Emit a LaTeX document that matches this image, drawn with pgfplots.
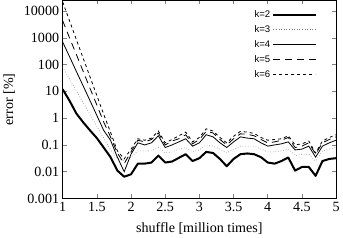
\documentclass[border=0pt]{standalone}
\usepackage{fontspec}
\setmainfont{Liberation Serif}
\newfontfamily\legfont{Liberation Sans}
\usepackage{pgfplots}
\usepackage{pgfplotstable}
\pgfplotsset{compat=1.18}
\pgfplotstableread{
x k2 k3 k4 k5 k6
1.0 12 80 700 4400 22000
1.1 4.5 29 200 1000 4400
1.2 1.5 10.5 56 240 870
1.3 0.7 3.8 16 56 174
1.4 0.35 1.4 4.5 13 35
1.5 0.18 0.5 1.26 3.1 7
1.6 0.08 0.18 0.35 0.72 1.4
1.7 0.035 0.066 0.15 0.2 0.3
1.8 0.011 0.032 0.035 0.05 0.06
1.9 0.0065 0.025 0.01 0.02 0.03
2.0 0.008 0.035 0.045 0.055 0.07
2.1 0.02 0.06 0.12 0.15 0.17
2.2 0.02 0.06 0.10 0.13 0.15
2.3 0.022 0.06 0.12 0.16 0.18
2.4 0.04 0.08 0.22 0.28 0.33
2.5 0.022 0.05 0.08 0.10 0.12
2.6 0.024 0.055 0.10 0.14 0.16
2.7 0.033 0.07 0.13 0.17 0.22
2.8 0.045 0.08 0.17 0.24 0.30
2.9 0.025 0.055 0.09 0.11 0.13
3.0 0.032 0.065 0.12 0.16 0.19
3.1 0.055 0.10 0.24 0.32 0.40
3.2 0.05 0.09 0.20 0.28 0.33
3.3 0.03 0.07 0.12 0.16 0.19
3.4 0.016 0.05 0.08 0.10 0.12
3.5 0.03 0.07 0.13 0.17 0.21
3.6 0.045 0.09 0.20 0.26 0.32
3.7 0.048 0.09 0.18 0.25 0.30
3.8 0.045 0.09 0.17 0.22 0.27
3.9 0.035 0.07 0.12 0.16 0.19
4.0 0.022 0.055 0.09 0.12 0.15
4.1 0.02 0.055 0.10 0.13 0.16
4.2 0.025 0.06 0.11 0.15 0.17
4.3 0.034 0.07 0.13 0.19 0.22
4.4 0.011 0.04 0.065 0.08 0.10
4.5 0.015 0.045 0.07 0.09 0.11
4.6 0.015 0.045 0.09 0.12 0.14
4.7 0.007 0.025 0.035 0.045 0.05
4.8 0.025 0.06 0.09 0.12 0.14
4.9 0.03 0.07 0.12 0.16 0.19
5.0 0.032 0.08 0.15 0.2 0.24
}\data
\begin{document}
\begin{tikzpicture}
\begin{axis}[
  scale only axis, width=272pt, height=197pt,
  xmin=1, xmax=5, ymode=log, ymin=0.001, ymax=25000,
  xtick={1,1.5,2,2.5,3,3.5,4,4.5,5},
  xticklabels={1,1.5,2,2.5,3,3.5,4,4.5,5},
  ytick={0.001,0.01,0.1,1,10,100,1000,10000},
  yticklabels={0.001,0.01,0.1,1,10,100,1000,10000},
  yminorticks=false, xminorticks=false,
  tick align=inside, major tick length=4pt,
  axis line style={line width=0.8pt}, tick style={line width=0.6pt},
  tick label style={font=\fontsize{14}{16}\selectfont},
  label style={font=\fontsize{14}{16}\selectfont},
  /pgf/number format/assume math mode=true,
  xlabel={shuffle [million times]}, ylabel={error [\%]},
  xlabel style={yshift=-4pt}, ylabel style={yshift=2pt},
  legend plot pos=right,
  legend cell align=right,
  legend image code/.code={\draw[#1] (0pt,0pt) -- (42pt,0pt);},
  legend style={draw=none, fill=none, at={(0.94,0.97)}, anchor=north east,
    font=\legfont\fontsize{9.5}{11}\selectfont, row sep=2.5pt},
]
\addplot[black, line width=2pt, line join=round] table[x=x,y=k2]{\data};
\addlegendentry{k=2}
\addplot[gray, line width=0.6pt, dotted] table[x=x,y=k3]{\data};
\addlegendentry{k=3}
\addplot[black, line width=0.8pt] table[x=x,y=k4]{\data};
\addlegendentry{k=4}
\addplot[black, line width=0.8pt, dash pattern=on 7pt off 5pt] table[x=x,y=k5]{\data};
\addlegendentry{k=5}
\addplot[black, line width=0.8pt, dash pattern=on 3pt off 3pt] table[x=x,y=k6]{\data};
\addlegendentry{k=6}
\end{axis}
\end{tikzpicture}
\end{document}
